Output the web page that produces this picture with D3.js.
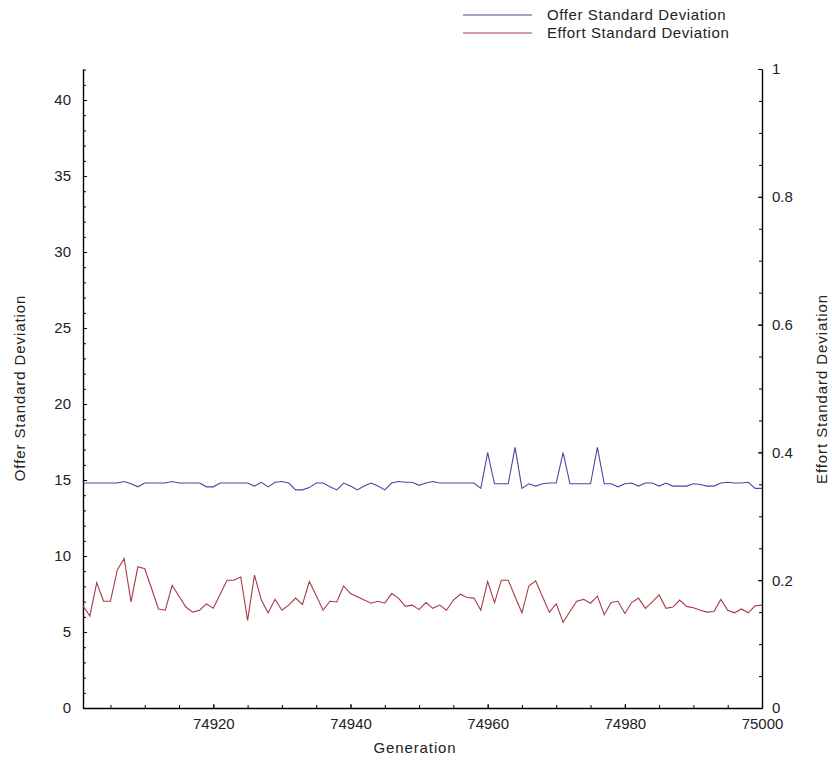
<!doctype html>
<html lang="en">
  <head>
    <meta charset="UTF-8" />
    <title>Offer and Effort Standard Deviation</title>
    <script src="https://d3js.org/d3.v7.min.js"></script>
    <style>
      body {
        margin: 0;
        background: #fff;
      }
      svg text {
        font-family: 'Liberation Sans', Arial, sans-serif;
        fill: #222;
      }
      .axis path,
      .axis line {
        stroke: #000;
      }
      .axis path {
        stroke-width: 1.4px;
      }
      .line {
        fill: none;
        stroke-width: 1.1px;
      }
      .title {
        font-size: 15px;
        letter-spacing: 0.9px;
      }
    </style>
  </head>
  <body>
    <svg width="832" height="764"></svg>
    <script>
      // generations 74901 .. 75000
      const firstGen = 74901;

      const offerSD = [
        14.8, 14.8, 14.8, 14.8, 14.8, 14.8, 14.9, 14.75, 14.55, 14.8,
        14.8, 14.8, 14.8, 14.9, 14.8, 14.8, 14.8, 14.8, 14.55, 14.55,
        14.8, 14.8, 14.8, 14.8, 14.8, 14.6, 14.85, 14.55, 14.85, 14.9,
        14.8, 14.35, 14.35, 14.5, 14.8, 14.8, 14.55, 14.35, 14.8, 14.6,
        14.35, 14.6, 14.8, 14.6, 14.35, 14.8, 14.9, 14.85, 14.85, 14.65,
        14.8, 14.9, 14.8, 14.8, 14.8, 14.8, 14.8, 14.8, 14.45, 16.8,
        14.75, 14.75, 14.75, 17.15, 14.45, 14.75, 14.6, 14.75, 14.8, 14.8,
        16.8, 14.75, 14.75, 14.75, 14.75, 17.15, 14.75, 14.75, 14.55, 14.75,
        14.8, 14.6, 14.8, 14.8, 14.6, 14.8, 14.6, 14.6, 14.6, 14.75,
        14.7, 14.6, 14.6, 14.8, 14.85, 14.8, 14.8, 14.85, 14.45, 14.45,
      ];

      const effortSD = [
        0.160, 0.144, 0.196, 0.167, 0.167, 0.216, 0.234, 0.166, 0.221, 0.218,
        0.187, 0.155, 0.153, 0.192, 0.175, 0.158, 0.150, 0.153, 0.163, 0.156,
        0.178, 0.200, 0.200, 0.205, 0.137, 0.208, 0.169, 0.149, 0.170, 0.153,
        0.161, 0.172, 0.162, 0.198, 0.176, 0.153, 0.167, 0.166, 0.191, 0.179,
        0.174, 0.169, 0.164, 0.167, 0.164, 0.179, 0.172, 0.159, 0.161, 0.154,
        0.165, 0.156, 0.161, 0.153, 0.169, 0.178, 0.173, 0.172, 0.153, 0.198,
        0.165, 0.200, 0.200, 0.174, 0.149, 0.191, 0.199, 0.174, 0.150, 0.163,
        0.134, 0.151, 0.167, 0.170, 0.164, 0.175, 0.146, 0.165, 0.167, 0.148,
        0.165, 0.172, 0.156, 0.166, 0.177, 0.156, 0.158, 0.169, 0.159, 0.157,
        0.153, 0.150, 0.151, 0.170, 0.153, 0.149, 0.155, 0.149, 0.160, 0.161,
      ];

      const xTicks = [74920, 74940, 74960, 74980, 75000];
      const leftTicks = [0, 5, 10, 15, 20, 25, 30, 35, 40];
      const rightTicks = [0, 0.2, 0.4, 0.6, 0.8, 1];

      const seriesNames = ['Offer Standard Deviation', 'Effort Standard Deviation'];
      const seriesColors = ['#4848a4', '#a63a44'];

      const margin = { top: 69, right: 70, bottom: 56, left: 83 };
      const W = 832, H = 764;
      const svg = d3.select('svg');

      const x = d3.scaleLinear()
        .domain([firstGen, 75000])
        .range([margin.left, W - margin.right]);

      // left axis top sits at 42.04 so that it lines up with 1 on the right axis
      const yLeft = d3.scaleLinear()
        .domain([0, 42.04])
        .range([H - margin.bottom, margin.top]);

      const yRight = d3.scaleLinear()
        .domain([0, 1])
        .range([H - margin.bottom, margin.top]);

      const gens = offerSD.map((d, i) => firstGen + i);

      // minor ticks
      svg.append('g')
        .attr('class', 'axis')
        .attr('transform', `translate(${margin.left},0)`)
        .call(d3.axisLeft(yLeft).tickValues(d3.range(0, 43, 1)).tickSize(-3).tickFormat(''))
        .call(g => g.select('.domain').remove());

      svg.append('g')
        .attr('class', 'axis')
        .attr('transform', `translate(${W - margin.right},0)`)
        .call(d3.axisRight(yRight).tickValues(d3.range(0, 1.001, 0.05)).tickSize(-3).tickFormat(''))
        .call(g => g.select('.domain').remove());

      svg.append('g')
        .attr('class', 'axis')
        .attr('transform', `translate(0,${H - margin.bottom})`)
        .call(d3.axisBottom(x).tickValues(d3.range(74905, 75001, 5)).tickSize(-3).tickFormat(''))
        .call(g => g.select('.domain').remove());

      // main axes
      svg.append('g')
        .attr('class', 'axis')
        .attr('transform', `translate(${margin.left},0)`)
        .call(d3.axisLeft(yLeft).tickValues(leftTicks).tickSize(-4).tickSizeOuter(0).tickPadding(12))
        .call(g => g.selectAll('text').style('font-size', '15px'));

      svg.append('g')
        .attr('class', 'axis')
        .attr('transform', `translate(${W - margin.right},0)`)
        .call(d3.axisRight(yRight).tickValues(rightTicks).tickSize(-4).tickSizeOuter(0).tickPadding(10)
          .tickFormat(d3.format('~g')))
        .call(g => g.selectAll('text').style('font-size', '15px'));

      svg.append('g')
        .attr('class', 'axis')
        .attr('transform', `translate(0,${H - margin.bottom})`)
        .call(d3.axisBottom(x).tickValues(xTicks).tickSize(-4).tickSizeOuter(0).tickPadding(10)
          .tickFormat(d3.format('d')))
        .call(g => g.selectAll('text').style('font-size', '15px'));

      // axis titles
      svg.append('text')
        .attr('class', 'title')
        .attr('x', 415)
        .attr('y', 753)
        .attr('text-anchor', 'middle')
        .text('Generation');

      svg.append('text')
        .attr('class', 'title')
        .attr('transform', 'translate(25,388) rotate(-90)')
        .attr('text-anchor', 'middle')
        .text('Offer Standard Deviation');

      svg.append('text')
        .attr('class', 'title')
        .attr('transform', 'translate(827,389) rotate(-90)')
        .attr('text-anchor', 'middle')
        .text('Effort Standard Deviation');

      // lines
      const offerLine = d3.line()
        .x((d, i) => x(gens[i]))
        .y(d => yLeft(d));

      const effortLine = d3.line()
        .x((d, i) => x(gens[i]))
        .y(d => yRight(d));

      svg.append('path')
        .datum(offerSD)
        .attr('class', 'line')
        .attr('stroke', seriesColors[0])
        .attr('d', offerLine);

      svg.append('path')
        .datum(effortSD)
        .attr('class', 'line')
        .attr('stroke', seriesColors[1])
        .attr('d', effortLine);

      // legend
      const legend = svg.selectAll('.legend')
        .data(seriesNames)
        .enter()
        .append('g')
        .attr('class', 'legend')
        .attr('transform', (d, i) => `translate(463,${15 + i * 18})`);

      legend.append('line')
        .attr('x1', 0)
        .attr('x2', 69)
        .attr('stroke', (d, i) => seriesColors[i])
        .attr('stroke-width', 1.2);

      legend.append('text')
        .attr('x', 84)
        .attr('dy', '0.35em')
        .style('font-size', '15px')
        .style('letter-spacing', '0.6px')
        .text(d => d);
    </script>
  </body>
</html>
